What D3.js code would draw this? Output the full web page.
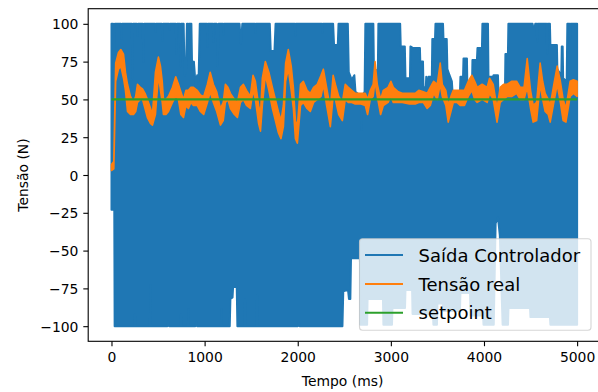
<!DOCTYPE html>
<html>
<head>
<meta charset="utf-8">
<script src="https://cdn.jsdelivr.net/npm/d3@7"></script>
<style>
  html, body { margin: 0; padding: 0; background: #fff; }
  svg { display: block; font-family: "DejaVu Sans", sans-serif; }
</style>
</head>
<body>
<svg id="chart" width="598" height="392"></svg>
<script>
// ---------------- DATA ----------------
// Axis ticks
const xTicks = [0, 1000, 2000, 3000, 4000, 5000];
const yTicks = [-100, -75, -50, -25, 0, 25, 50, 75, 100];

// Series names
const seriesNames = ["Saída Controlador", "Tensão real", "setpoint"];
const seriesColors = ["#1f77b4", "#ff7f0e", "#2ca02c"];

// "Saída Controlador": fast switching signal, read as its envelope
// upper envelope [time ms, value]
const saidaMax = [
  [0,100],[18,100],[27,72],[36,100],
  [100,100],[107,90],[114,100],
  [218,100],[225,64],[232,100],
  [272,100],[279,92],[286,100],
  [335,100],[343,75],[351,100],
  [466,100],[472,95],[478,100],
  [540,100],[547,89],[554,100],
  [616,100],[622,96],[628,100],
  [690,100],[697,80],[704,100],
  [733,100],[740,72],[747,100],
  [775,100],[785,66],[800,68],[810,100],
  [820,100],[826,90],[832,100],
  [858,100],[866,70],[885,75],[905,58],[920,66],[935,62],[948,100],
  [1024,100],[1030,85],[1036,100],
  [1088,100],[1094,88],[1100,100],
  [1130,100],[1140,72],[1150,100],
  [1196,100],[1202,93],[1208,100],
  [1375,100],[1390,87],[1405,100],
  [1539,100],[1545,94],[1551,100],
  [1700,100],[1710,82],[1750,82],[1762,100],
  [1968,100],[1974,92],[1980,100],
  [2258,100],[2264,94],[2270,100],
  [2380,100],[2390,86],[2430,86],[2438,100],
  [2538,100],[2548,68],[2580,63],[2608,66],
  [2620,55],[2660,53],[2678,50],[2683,30],[2688,52],[2718,55],[2726,100],
  [2812,100],[2818,70],[2860,69],[2866,100],
  [3100,100],[3106,85],[3150,85],[3157,64],[3205,64],[3210,85],[3240,84],[3312,84],
  [3316,75],[3345,75],[3350,58],[3375,58],[3380,65],[3385,58],[3398,58],[3403,65],
  [3440,65],[3445,90],[3474,90],[3479,100],
  [3560,100],[3565,90],[3600,90],[3607,70],[3630,66],[3655,62],[3662,55],[3742,55],
  [3747,65],[3775,65],[3780,77],[3817,77],[3822,55],[3870,55],[3876,76],[3924,76],
  [3930,84],[3978,84],[3983,100],
  [4043,100],[4048,65],[4097,65],[4102,66],[4150,66],[4155,55],[4225,55],[4230,80],
  [4257,80],[4262,100],
  [4522,100],[4528,98],[4545,98],[4550,100],
  [4565,100],[4571,88],[4577,100],
  [4672,100],[4678,80],[4684,100],
  [4708,100],[4713,86],[4783,86],[4788,70],[4830,66],[4835,85],[4845,85],[4850,64],
  [4888,62],[4895,100],
  [4919,100],[4925,90],[4931,100],
  [5000,100]
];
// lower envelope [time ms, value]
const saidaMin = [
  [0,-23],[30,-23],[34,-100],
  [245,-100],[252,-92],[259,-100],
  [412,-100],[418,-73],[424,-100],
  [600,-100],[610,-97],[620,-100],
  [740,-100],[746,-92],[752,-100],
  [820,-100],[826,-89],[832,-100],
  [900,-100],[910,-97],[920,-100],
  [1174,-100],[1180,-89],[1186,-100],
  [1270,-100],[1277,-82],[1300,-81],[1306,-74],[1345,-74],[1352,-100],
  [1428,-100],[1434,-82],[1440,-100],
  [1558,-100],[1563,-79],[1568,-100],
  [2000,-100],[2010,-97],[2020,-100],
  [2480,-100],[2489,-77],[2540,-76],[2550,-82],[2565,-82],[2572,-55],[2668,-55],
  [2672,-99],[2745,-99],[2750,-82],[2915,-82],[2920,-99],[3012,-99],[3017,-88],
  [3152,-88],[3157,-76],[3228,-76],[3233,-92],[3452,-92],[3457,-99],[3495,-99],
  [3500,-85],[3560,-85],[3565,-90],[3742,-90],[3747,-78],[3850,-78],[3855,-93],
  [3990,-93],[3995,-99],[4105,-99],[4125,-32],[4150,-28],[4170,-40],[4200,-99],
  [4258,-99],[4263,-88],[4494,-88],[4499,-94],[4708,-94],[4713,-99],[5000,-99]
];

// "Tensão real": noisy response, [time ms, low, high]
const tensaoBand = [
  [0,3,7],[25,4,9],[45,62,74],[75,70,81],[100,72,83],[129,64,80],[150,56,68],
  [172,42,60],[204,40,52],[236,40,48],[260,42,52],[279,48,60],[310,50,58],
  [333,50,57],[360,44,54],[386,38,50],[420,34,44],[440,33,40],[472,40,68],
  [504,66,78],[526,56,72],[545,48,62],[558,40,50],[585,40,50],[612,42,52],
  [655,48,58],[690,52,65],[719,50,60],[745,40,55],[773,38,50],[800,46,56],
  [826,44,56],[853,48,58],[880,46,58],[920,46,56],[955,42,53],[990,40,52],
  [1030,48,60],[1060,55,68],[1094,48,60],[1130,42,55],[1170,33,44],[1200,36,48],
  [1223,48,60],[1250,50,58],[1277,44,54],[1320,40,50],[1352,38,48],[1385,48,58],
  [1416,50,60],[1450,46,56],[1491,44,52],[1520,56,66],[1545,50,62],[1580,34,46],
  [1600,29,40],[1620,46,64],[1652,66,75],[1690,56,68],[1728,44,58],[1760,36,50],
  [1792,28,42],[1820,24,36],[1846,32,46],[1870,62,74],[1899,70,83],[1930,56,72],
  [1953,44,58],[1975,24,36],[1996,21,32],[2030,46,60],[2060,48,62],[2100,44,56],
  [2135,42,54],[2170,48,58],[2210,50,60],[2250,52,66],[2275,60,70],[2310,46,58],
  [2350,32,44],[2380,52,66],[2404,50,60],[2440,40,52],[2479,36,48],[2510,50,60],
  [2543,48,58],[2580,48,56],[2618,47,54],[2680,47,54],[2725,46,54],[2750,40,50],
  [2779,50,56],[2810,52,60],[2830,62,75],[2854,52,60],[2890,40,50],[2919,46,56],
  [2970,48,58],[3000,52,62],[3026,48,58],[3080,48,55],[3122,48,54],[3200,47,54],
  [3262,47,54],[3300,48,56],[3348,48,55],[3390,44,54],[3423,46,58],[3460,54,62],
  [3498,50,60],[3530,60,74],[3552,52,60],[3590,46,56],[3616,35,46],[3645,42,52],
  [3670,48,56],[3710,48,56],[3745,46,56],[3790,46,56],[3831,52,62],[3870,56,66],
  [3900,50,62],[3927,48,58],[3980,50,60],[4034,48,58],[4060,54,64],[4099,50,60],
  [4140,35,44],[4174,48,58],[4210,50,60],[4249,52,60],[4300,52,62],[4350,54,62],
  [4389,50,58],[4430,50,58],[4464,58,77],[4500,44,56],[4528,35,46],[4565,36,48],
  [4603,60,74],[4630,50,62],[4657,42,54],[4690,40,50],[4711,35,46],[4750,48,60],
  [4786,60,72],[4820,48,62],[4850,36,50],[4880,35,44],[4925,52,62],[4960,54,63],
  [5000,52,62]
];

// "setpoint": constant
const setpoint = [[0,50],[5000,50]];

// ---------------- CHART ----------------
const svg = d3.select("#chart");
const W = 598, H = 392;
const plot = { left: 88.2, right: 600.4, top: 8.7, bottom: 341.3 };

const x = d3.scaleLinear().domain([-250, 5250]).range([plot.left, plot.right]);
const y = d3.scaleLinear().domain([-110, 110]).range([plot.bottom, plot.top]);

const fmt = d => (d < 0 ? "\u2212" + Math.abs(d) : String(d));

svg.append("defs").append("clipPath").attr("id", "clip")
  .append("rect").attr("x", plot.left).attr("y", plot.top)
  .attr("width", plot.right - plot.left).attr("height", plot.bottom - plot.top);

const g = svg.append("g").attr("clip-path", "url(#clip)");

const line = d3.line().x(d => x(d[0])).y(d => y(d[1]));

// Controller output: envelope polygon (upper left->right, lower right->left)
const saidaPoly = saidaMax.concat(saidaMin.slice().reverse());
g.append("path")
  .attr("d", line(saidaPoly) + "Z")
  .attr("fill", seriesColors[0])
  .attr("stroke", seriesColors[0])
  .attr("stroke-width", 2)
  .attr("stroke-linejoin", "round");

// Tension band
const bandArea = d3.area().x(d => x(d[0])).y0(d => y(d[1])).y1(d => y(d[2]));
g.append("path")
  .attr("d", bandArea(tensaoBand))
  .attr("fill", seriesColors[1])
  .attr("stroke", seriesColors[1])
  .attr("stroke-width", 1.6)
  .attr("stroke-linejoin", "round");

// Setpoint
g.append("path")
  .attr("d", line(setpoint))
  .attr("fill", "none")
  .attr("stroke", seriesColors[2])
  .attr("stroke-width", 2.1);

// Axes
const tickLen = 4.9, tickPad = 4.9;
const xAxis = svg.append("g")
  .attr("transform", `translate(0,${plot.bottom})`)
  .call(d3.axisBottom(x).tickValues(xTicks).tickFormat(fmt).tickSize(tickLen).tickPadding(tickPad));
const yAxis = svg.append("g")
  .attr("transform", `translate(${plot.left},0)`)
  .call(d3.axisLeft(y).tickValues(yTicks).tickFormat(fmt).tickSize(tickLen).tickPadding(tickPad));

[xAxis, yAxis].forEach(a => {
  a.select(".domain").remove();
  a.selectAll(".tick line").attr("stroke", "#000").attr("stroke-width", 1.1);
  a.selectAll(".tick text")
    .attr("fill", "#000")
    .style("font-family", "'DejaVu Sans', sans-serif")
    .style("font-size", "13.9px");
});
xAxis.selectAll(".tick text").attr("dy", null).attr("y", tickLen + tickPad + 11.2);
yAxis.selectAll(".tick text").attr("dy", "0.36em");

// Spines
svg.append("rect")
  .attr("x", plot.left).attr("y", plot.top)
  .attr("width", plot.right - plot.left).attr("height", plot.bottom - plot.top)
  .attr("fill", "none").attr("stroke", "#000").attr("stroke-width", 1.1);

// Axis labels
svg.append("text")
  .attr("x", (plot.left + W) / 2 - 0.5).attr("y", 386)
  .attr("text-anchor", "middle")
  .style("font-size", "13.9px").attr("fill", "#000")
  .text("Tempo (ms)");
svg.append("text")
  .attr("transform", `translate(27.5,${(plot.top + plot.bottom) / 2}) rotate(-90)`)
  .attr("text-anchor", "middle")
  .style("font-size", "13.9px").attr("fill", "#000")
  .text("Tensão (N)");

// Legend
const lg = svg.append("g");
lg.append("rect")
  .attr("x", 359.5).attr("y", 238.8).attr("width", 231.5).attr("height", 91.5)
  .attr("rx", 3).attr("ry", 3)
  .attr("fill", "#fff").attr("fill-opacity", 0.8)
  .attr("stroke", "#ccc").attr("stroke-opacity", 0.8).attr("stroke-width", 1.1);
const rowY = [255, 284, 312.8];
seriesNames.forEach((name, i) => {
  lg.append("line")
    .attr("x1", 365).attr("x2", 403)
    .attr("y1", rowY[i]).attr("y2", rowY[i])
    .attr("stroke", seriesColors[i]).attr("stroke-width", 2.1);
  lg.append("text")
    .attr("x", 418.5).attr("y", rowY[i] + 6.5)
    .style("font-size", "18px").attr("fill", "#000")
    .text(name);
});
</script>
</body>
</html>
